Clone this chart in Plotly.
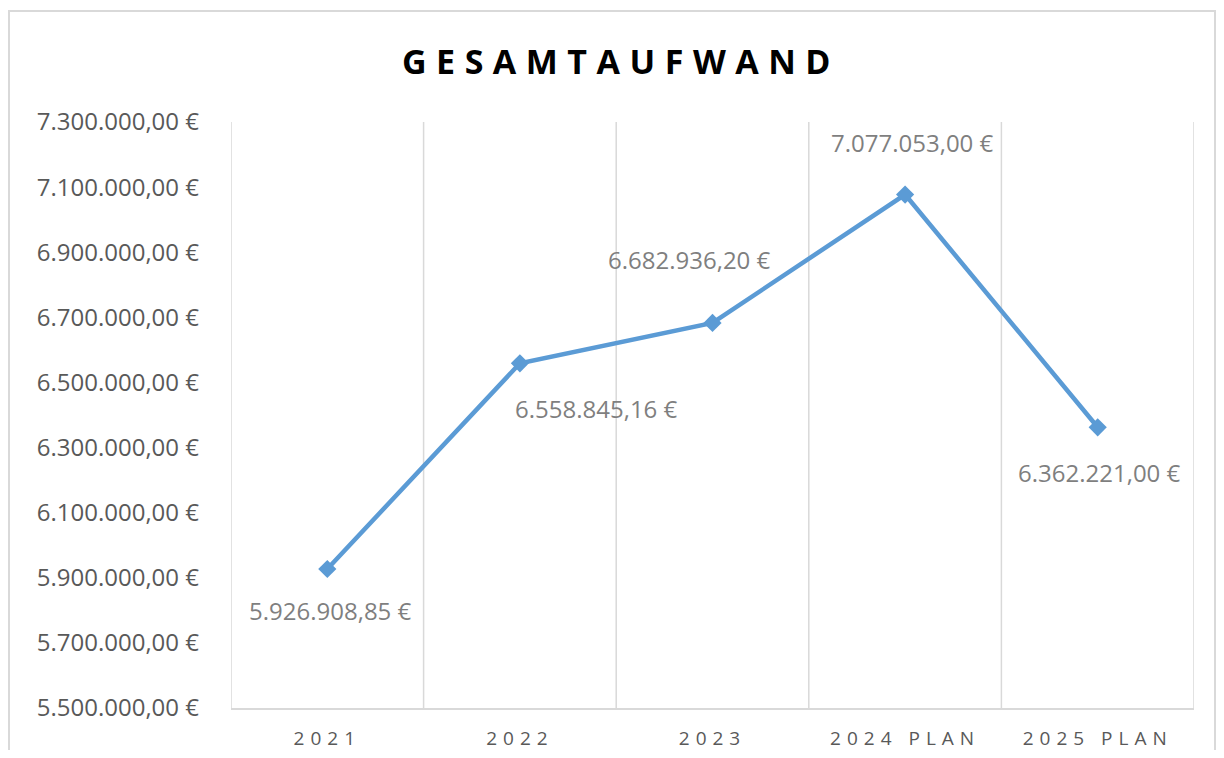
import plotly.graph_objects as go

categories = ["2021", "2022", "2023", "2024 PLAN", "2025 PLAN"]
values = [5926908.85, 6558845.16, 6682936.20, 7077053.00, 6362221.00]
y_ticks = [5500000, 5700000, 5900000, 6100000, 6300000, 6500000, 6700000, 6900000, 7100000, 7300000]
title_text = "GESAMTAUFWAND"

# label offsets (pixels) relative to each point
label_dx = [3, 77, -23, 7, 2]
label_dy = [-41, -45, 63, 52, -45]


def de(v):
    s = f"{v:,.2f}"
    return s.replace(",", "X").replace(".", ",").replace("X", ".") + " €"


def spaced(t, px):
    return f'<span style="letter-spacing:{px}px">{t}</span>'


# page body has an 8px margin; work in reference pixel coords minus 8
OFF = 8
FIG_W, FIG_H = 1224 - 2 * OFF, 758 - 2 * OFF
L, R, T, B = 231 - OFF, 1194 - OFF, 122 - OFF, 708 - OFF
W, H = R - L, B - T

FONT = "Open Sans"
fig = go.Figure()
fig.add_trace(go.Scatter(
    x=list(range(len(categories))), y=values, mode="lines+markers",
    line=dict(color="#5b9bd5", width=4.5),
    marker=dict(symbol="diamond", size=14, color="#5b9bd5"),
    hoverinfo="skip", showlegend=False,
))

for i, (v, dx, dy) in enumerate(zip(values, label_dx, label_dy)):
    fig.add_annotation(x=i, y=v, text=de(v), showarrow=False,
                       xshift=dx, yshift=dy,
                       font=dict(family=FONT, size=24, color="#7f7f7f"))

# outer chart border (partly outside the drawable page area)
fig.add_shape(type="rect", xref="paper", yref="paper",
              x0=(1 - L) / W, x1=(FIG_W - 1 - L) / W,
              y0=(B - 800) / H, y1=(B - (11 - OFF)) / H,
              line=dict(color="#d9d9d9", width=2), fillcolor="rgba(0,0,0,0)",
              layer="below")

fig.update_layout(
    width=FIG_W, height=FIG_H,
    paper_bgcolor="white", plot_bgcolor="white",
    margin=dict(l=L, r=FIG_W - R, t=T, b=FIG_H - B, autoexpand=False),
    title=dict(text="<b>" + spaced(title_text, 9.5) + "</b>",
               x=(621 - OFF - L) / W, xref="paper", xanchor="center",
               y=1 - (62 - OFF) / FIG_H, yanchor="middle",
               font=dict(family=FONT, size=34, color="black")),
    font=dict(family=FONT),
)
fig.update_xaxes(
    range=[-0.5, len(categories) - 0.5],
    tickvals=list(range(len(categories))),
    ticktext=[spaced(c, 6) for c in categories],
    showgrid=False, zeroline=False, automargin=False,
    showline=True, linecolor="#d9d9d9", linewidth=1.5,
    ticks="", ticklabelstandoff=12,
    tickfont=dict(family=FONT, size=19, color="#595959"),
    fixedrange=True,
)
# vertical gridlines at category boundaries
for k in range(len(categories) + 1):
    fig.add_vline(x=k - 0.5, line=dict(color="#d9d9d9", width=1.5), layer="below")

fig.update_yaxes(
    range=[5500000, 7300000],
    tickvals=y_ticks, ticktext=[de(v) for v in y_ticks],
    showgrid=False, zeroline=False, automargin=False,
    showline=False,
    ticks="", ticklabelstandoff=31,
    tickfont=dict(family=FONT, size=24, color="#595959"),
    fixedrange=True,
)

fig.write_html("out.html")
